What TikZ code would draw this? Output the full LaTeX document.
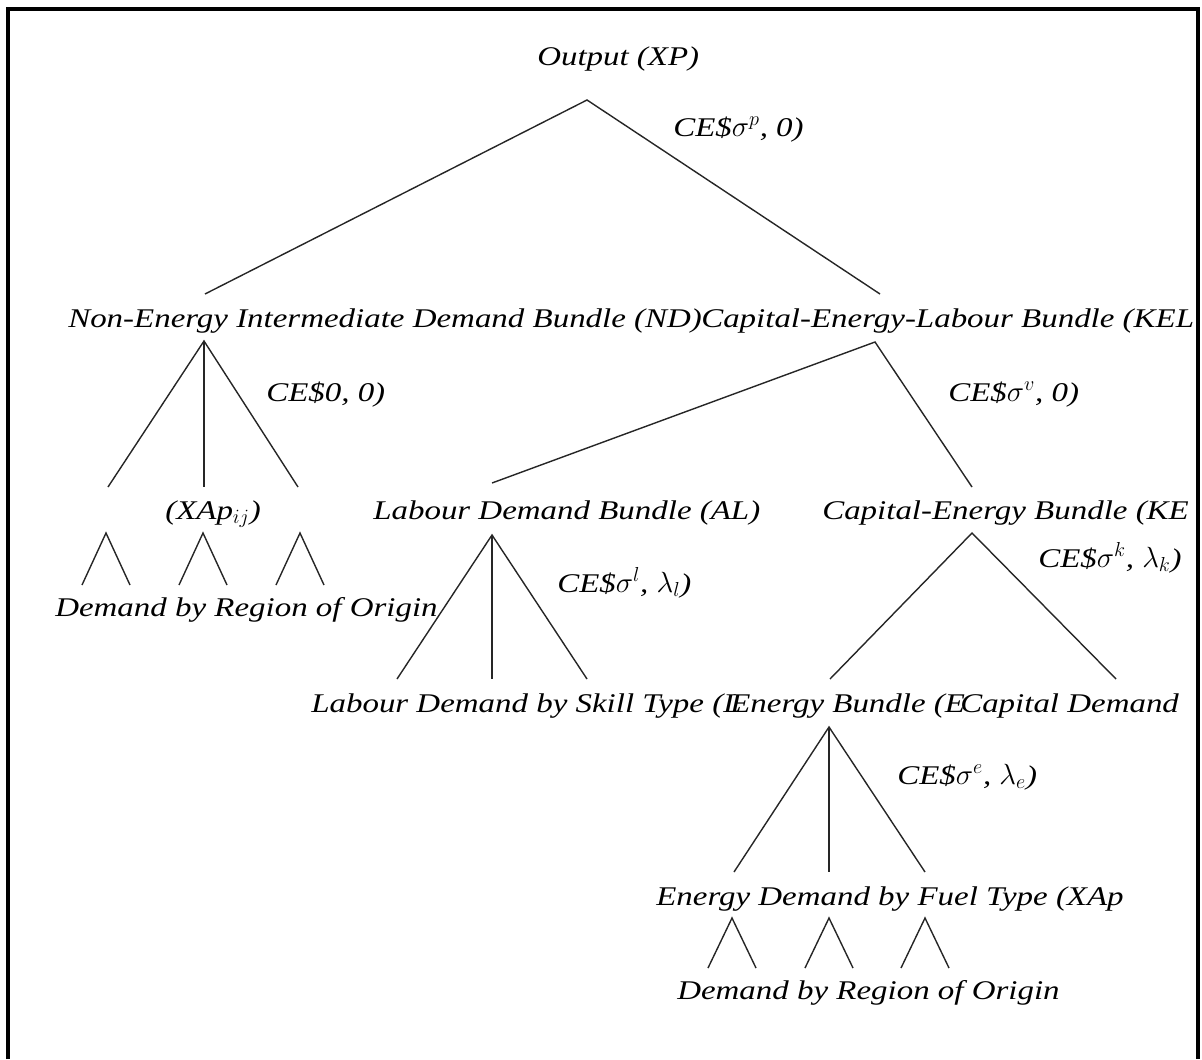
\documentclass[tikz,border=0pt]{standalone}
\usepackage{fontspec}
\setmainfont{Liberation Serif}[FakeStretch=1.22]
\usepackage{tikz}
\tikzset{
  tag/.style={
    anchor=base west, inner sep=0pt,
    font=\fontsize{19.2}{23}\selectfont\itshape
  },
  branch/.style={
    draw=black!85, line width=1pt
  },
  frame/.style={
    draw=black, line width=2.2pt
  }
}

\begin{document}
\begin{tikzpicture}[x=0.025cm, y=-0.025cm]
\useasboundingbox (0,0) rectangle (1202,1059);
\draw[frame] (8,1059) -- (8,9) -- (1198,9) -- (1198,1059);

% texts
\node[tag] (out) at (537,65) {Output (XP)};
\node[tag] (ces-out) at (673,136) {CE\$$\sigma^p$, 0)};
\node[tag] (nd) at (68,327) {Non-Energy Intermediate Demand Bundle (ND)};
\node[tag] (kel) at (701,327) {Capital-Energy-Labour Bundle (KEL};
\node[tag] (ces-nd) at (266,401) {CE\$0, 0)};
\node[tag] (ces-kel) at (948,401) {CE\$$\sigma^v$, 0)};
\node[tag] (xap) at (165,519) {(XAp$_{ij}$)};
\node[tag] (al) at (373,519) {Labour Demand Bundle (AL)};
\node[tag] (ke) at (822,519) {Capital-Energy Bundle (KE};
\node[tag] (ces-ke) at (1038,567) {CE\$$\sigma^k$, $\lambda_k$)};
\node[tag] (ces-al) at (557,592) {CE\$$\sigma^l$, $\lambda_l$)};
\node[tag] (reg1) at (55,616) {Demand by Region of Origin};
\node[tag] (skill) at (311,712) {Labour Demand by Skill Type (L};
\node[tag] (en) at (730,712) {Energy Bundle (E};
\node[tag] (cap) at (960,712) {Capital Demand};
\node[tag] (ces-e) at (897,784) {CE\$$\sigma^e$, $\lambda_e$)};
\node[tag] (fuel) at (656,905) {Energy Demand by Fuel Type (XAp};
\node[tag] (reg2) at (677,999) {Demand by Region of Origin};

% branch points
\coordinate (out-b) at (587,100);
\coordinate (nd-t) at (205,294);
\coordinate (kel-t) at (880,294);
\coordinate (nd-b) at (204,341);
\coordinate (nd-1) at (108,487);
\coordinate (nd-2) at (204,487);
\coordinate (nd-3) at (298,487);
\coordinate (kel-b) at (875,342);
\coordinate (al-t) at (492,483);
\coordinate (ke-t) at (972,487);
\coordinate (al-b) at (492,535);
\coordinate (al-1) at (397,679);
\coordinate (al-2) at (492,679);
\coordinate (al-3) at (587,679);
\coordinate (ke-b) at (972,533);
\coordinate (ke-1) at (830,679);
\coordinate (ke-2) at (1116,679);
\coordinate (en-b) at (829,727);
\coordinate (en-1) at (734,872);
\coordinate (en-2) at (829,872);
\coordinate (en-3) at (925,872);

\draw[branch] (nd-t) -- (out-b) -- (kel-t);
\draw[branch] (nd-1) -- (nd-b) -- (nd-3);
\draw[branch] (nd-b) -- (nd-2);
\draw[branch] (al-t) -- (kel-b) -- (ke-t);
\draw[branch] (al-1) -- (al-b) -- (al-3);
\draw[branch] (al-b) -- (al-2);
\draw[branch] (ke-1) -- (ke-b) -- (ke-2);
\draw[branch] (en-1) -- (en-b) -- (en-3);
\draw[branch] (en-b) -- (en-2);

% region of origin splits
\foreach \x [count=\i] in {106,203,300} {
  \coordinate (ra\i) at (\x,533);
  \coordinate (ra\i-l) at (\x-24,585);
  \coordinate (ra\i-r) at (\x+24,585);
  \draw[branch] (ra\i-l) -- (ra\i) -- (ra\i-r);
}
\foreach \x [count=\i] in {732,829,925} {
  \coordinate (rb\i) at (\x,918);
  \coordinate (rb\i-l) at (\x-24,968);
  \coordinate (rb\i-r) at (\x+24,968);
  \draw[branch] (rb\i-l) -- (rb\i) -- (rb\i-r);
}
\end{tikzpicture}
\end{document}
